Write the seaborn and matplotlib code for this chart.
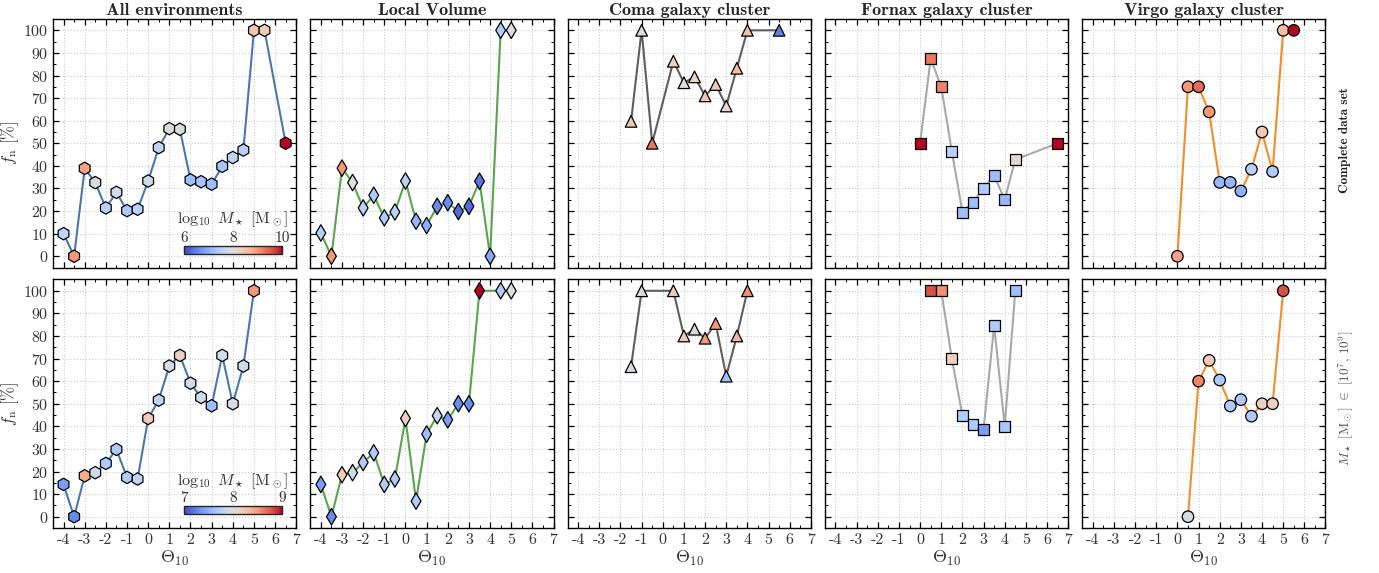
import numpy as np
import pandas as pd
import matplotlib
matplotlib.use("Agg")
import matplotlib.pyplot as plt
import matplotlib as mpl
import seaborn as sns

# ---------------- data ----------------
titles = ["All environments", "Local Volume", "Coma galaxy cluster",
          "Fornax galaxy cluster", "Virgo galaxy cluster"]
row_labels = ["Complete data set",
              r"$M_\star$ [M$_\odot$] $\in$ [10$^7$, 10$^9$]"]
xtick_vals = [-4, -3, -2, -1, 0, 1, 2, 3, 4, 5, 6, 7]
xtick_labels = ["-4", "-3", "-2", "-1", "0", "1", "2", "3", "4", "5", "6", "7"]
ytick_vals = [0, 10, 20, 30, 40, 50, 60, 70, 80, 90, 100]

# top row: complete data set
all_top_x = [-4, -3.5, -3, -2.5, -2, -1.5, -1, -0.5, 0, 0.5, 1, 1.5, 2, 2.5, 3, 3.5, 4, 4.5, 5, 5.5, 6.5]
all_top_f = [10, 0, 38.9, 32.6, 21.4, 28.3, 20.2, 20.8, 33.3, 48.1, 56.5, 56.2, 33.8, 33.0, 31.9, 39.8, 43.7, 47.0, 100, 100, 50]
all_top_m = [7.6, 9.0, 8.9, 8.0, 7.5, 7.8, 7.4, 7.5, 7.8, 7.6, 8.0, 8.0, 7.2, 7.3, 7.2, 7.3, 7.6, 7.5, 8.5, 8.4, 10.0]

lv_top_x = [-4, -3.5, -3, -2.5, -2, -1.5, -1, -0.5, 0, 0.5, 1, 1.5, 2, 2.5, 3, 3.5, 4, 4.5, 5]
lv_top_f = [10.3, 0, 39, 32.6, 21.4, 27, 17, 19.6, 33.3, 15.5, 13.6, 22.1, 23.7, 19.8, 22.1, 33.2, 0, 100, 100]
lv_top_m = [7.5, 9.0, 9.0, 8.0, 7.5, 7.4, 7.4, 7.5, 7.5, 7.1, 7.0, 6.6, 6.6, 6.3, 6.3, 6.4, 6.9, 7.4, 8.0]

coma_top_x = [-1.5, -1, -0.5, 0.5, 1, 1.5, 2, 2.5, 3, 3.5, 4, 5.5]
coma_top_f = [59.7, 100, 50, 86.3, 76.8, 79.4, 71, 76, 66.5, 83.2, 100, 100]
coma_top_m = [8.5, 8.0, 9.3, 8.3, 8.0, 8.2, 8.5, 8.5, 8.2, 8.6, 8.6, 6.5]

fornax_top_x = [0, 0.5, 1, 1.5, 2, 2.5, 3, 3.5, 4, 4.5, 6.5]
fornax_top_f = [50, 87.5, 75, 46.5, 19.5, 24, 30, 35.7, 25, 42.8, 50]
fornax_top_m = [10, 9.3, 9.2, 7.5, 7.2, 7.2, 7.4, 7.2, 7.1, 8.1, 10]

virgo_top_x = [0, 0.5, 1, 1.5, 2, 2.5, 3, 3.5, 4, 4.5, 5, 5.5]
virgo_top_f = [0, 75, 75, 63.9, 32.7, 32.7, 28.9, 38.5, 55, 37.5, 100, 100]
virgo_top_m = [8.9, 9.0, 9.4, 9.0, 7.1, 7.1, 7.0, 7.5, 8.4, 7.4, 8.6, 10]

# bottom row: mass-limited sample
all_bot_x = [-4, -3.5, -3, -2.5, -2, -1.5, -1, -0.5, 0, 0.5, 1, 1.5, 2, 2.5, 3, 3.5, 4, 4.5, 5]
all_bot_f = [14.3, 0, 18.1, 19.5, 23.6, 29.8, 17.4, 16.7, 43.5, 51.6, 66.7, 71.4, 59.1, 52.8, 49.1, 71.4, 50, 66.7, 100]
all_bot_m = [7.4, 7.3, 8.4, 7.9, 7.7, 7.7, 7.7, 7.8, 8.2, 7.8, 7.95, 8.15, 7.9, 7.9, 7.6, 7.95, 7.95, 7.9, 8.5]

lv_bot_x = [-4, -3.5, -3, -2.5, -2, -1.5, -1, -0.5, 0, 0.5, 1, 1.5, 2, 2.5, 3, 3.5, 4.5, 5]
lv_bot_f = [14.3, 0, 18.6, 19.5, 24.0, 28.3, 14.3, 16.7, 43.5, 6.9, 36.6, 44.7, 42.9, 50, 50, 100, 100, 100]
lv_bot_m = [7.4, 7.3, 8.2, 7.9, 7.7, 7.7, 7.7, 7.7, 8.15, 7.7, 7.6, 7.85, 7.4, 7.3, 7.3, 9.0, 7.7, 7.95]

coma_bot_x = [-1.5, -1, 0.5, 1, 1.5, 2, 2.5, 3, 3.5, 4]
coma_bot_f = [66.4, 100, 100, 80, 83, 79, 85.5, 62.2, 80, 100]
coma_bot_m = [7.95, 7.95, 8.2, 8.2, 8.0, 8.5, 8.5, 7.6, 8.35, 8.55]

fornax_bot_x = [0.5, 1, 1.5, 2, 2.5, 3, 3.5, 4, 4.5]
fornax_bot_f = [100, 100, 70, 44.8, 40.9, 38.8, 84.5, 40, 100]
fornax_bot_m = [8.8, 8.55, 8.15, 7.7, 7.7, 7.4, 7.7, 7.65, 7.6]

virgo_bot_x = [0.5, 1, 1.5, 2, 2.5, 3, 3.5, 4, 4.5, 5]
virgo_bot_f = [0, 60, 69.2, 60.5, 49, 51.8, 44.5, 50, 50, 100]
virgo_bot_m = [7.95, 8.6, 8.2, 7.7, 7.7, 7.7, 7.7, 8.15, 8.15, 8.8]

cbar_ticks_top = [6, 8, 10]
cbar_ticks_bot = [7, 8, 9]
cbar_label = r"$\log_{10}\ M_\star\ [\mathrm{M}_\odot]$"

# ---------------- style ----------------
sns.set_style("ticks")
plt.rcParams["font.family"] = ["cmr10", "DejaVu Serif"]
plt.rcParams["mathtext.fontset"] = "cm"
plt.rcParams["axes.unicode_minus"] = False
plt.rcParams["axes.formatter.use_mathtext"] = True

line_colors = ["#4a78ad", "#55a74a", "#5e5e5e", "#a8a8a8", "#f58b25"]
markers = ["h", "d", "^", "s", "o"]
msizes = [80, 70, 70, 62, 68]

rows = [
    [(all_top_x, all_top_f, all_top_m), (lv_top_x, lv_top_f, lv_top_m),
     (coma_top_x, coma_top_f, coma_top_m), (fornax_top_x, fornax_top_f, fornax_top_m),
     (virgo_top_x, virgo_top_f, virgo_top_m)],
    [(all_bot_x, all_bot_f, all_bot_m), (lv_bot_x, lv_bot_f, lv_bot_m),
     (coma_bot_x, coma_bot_f, coma_bot_m), (fornax_bot_x, fornax_bot_f, fornax_bot_m),
     (virgo_bot_x, virgo_bot_f, virgo_bot_m)],
]
norms = [(6, 10), (7, 9)]

fig, axes = plt.subplots(2, 5, figsize=(13.79, 5.73), dpi=100, sharex=True, sharey=True)
fig.subplots_adjust(left=0.0384, right=0.9612, top=0.9668, bottom=0.0785,
                    wspace=0.0576, hspace=0.048)

for r in range(2):
    for c in range(5):
        ax = axes[r, c]
        x, f, m = rows[r][c]
        df = pd.DataFrame({"theta": x, "fn": f, "logm": m})
        sns.lineplot(data=df, x="theta", y="fn", sort=False, ax=ax,
                     color=line_colors[c], linewidth=1.5, zorder=2)
        sns.scatterplot(data=df, x="theta", y="fn", hue="logm", palette="coolwarm",
                        hue_norm=norms[r], marker=markers[c], s=msizes[c],
                        edgecolor="black", linewidth=0.9, legend=False, ax=ax, zorder=3)
        ax.set_xlim(-4.5, 7)
        ax.set_ylim(-5, 105)
        ax.set_xticks(xtick_vals)
        ax.set_xticklabels(xtick_labels)
        ax.set_yticks(ytick_vals)
        ax.xaxis.set_minor_locator(mpl.ticker.MultipleLocator(0.5))
        ax.yaxis.set_minor_locator(mpl.ticker.MultipleLocator(5))
        ax.tick_params(which="both", direction="in", top=True, right=True,
                       labelsize=11.5, colors="black", labelcolor="#333333")
        ax.tick_params(which="major", length=4, width=0.9)
        ax.tick_params(which="minor", length=2, width=0.7)
        ax.grid(True, which="major", linestyle=":", color="#cccccc", linewidth=0.8)
        ax.set_axisbelow(True)
        for sp in ax.spines.values():
            sp.set_linewidth(1.0)
            sp.set_color("black")
        ax.set_xlabel(r"$\Theta_{10}$" if r == 1 else "", fontsize=13, color="#333333",
                      labelpad=2)
        ax.set_ylabel(r"$f_{\rm n}$ [%]" if c == 0 else "", fontsize=12, color="#333333",
                      labelpad=1)
        if r == 0:
            ax.set_title(titles[c], fontfamily="cmb10", fontsize=13, pad=3)

# row labels on the right
fig.text(0.9755, 0.7555, row_labels[0], rotation=90, va="center", ha="center",
         fontfamily="cmb10", fontsize=9.5, color="#222222")
fig.text(0.9755, 0.3045, row_labels[1], rotation=90, va="center", ha="center",
         fontsize=9.5, color="#555555")

# colorbars
cb_pos = [[184 / 1379, 1 - 254 / 573, 98 / 1379, 8 / 573],
          [184 / 1379, 1 - 514 / 573, 98 / 1379, 8 / 573]]
cb_label_y = [1 - 219 / 573, 1 - 481 / 573]
cb_ticks = [cbar_ticks_top, cbar_ticks_bot]
for r in range(2):
    cax = fig.add_axes(cb_pos[r])
    sm = mpl.cm.ScalarMappable(cmap="coolwarm",
                               norm=mpl.colors.Normalize(*norms[r]))
    cb = fig.colorbar(sm, cax=cax, orientation="horizontal")
    cb.set_ticks(cb_ticks[r])
    cb.set_ticklabels([str(t) for t in cb_ticks[r]])
    cax.xaxis.set_ticks_position("top")
    cax.xaxis.set_minor_locator(mpl.ticker.MultipleLocator(0.25 if r == 1 else 0.5))
    cax.tick_params(which="both", direction="in", labelsize=11, labelcolor="#333333",
                    pad=1)
    cax.tick_params(which="major", length=4)
    cax.tick_params(which="minor", length=2)
    cb.outline.set_linewidth(1.0)
    fig.text(233 / 1379, cb_label_y[r], cbar_label, ha="center", va="center",
             fontsize=11.5, color="#333333")

fig.savefig("out.png", dpi=100)
